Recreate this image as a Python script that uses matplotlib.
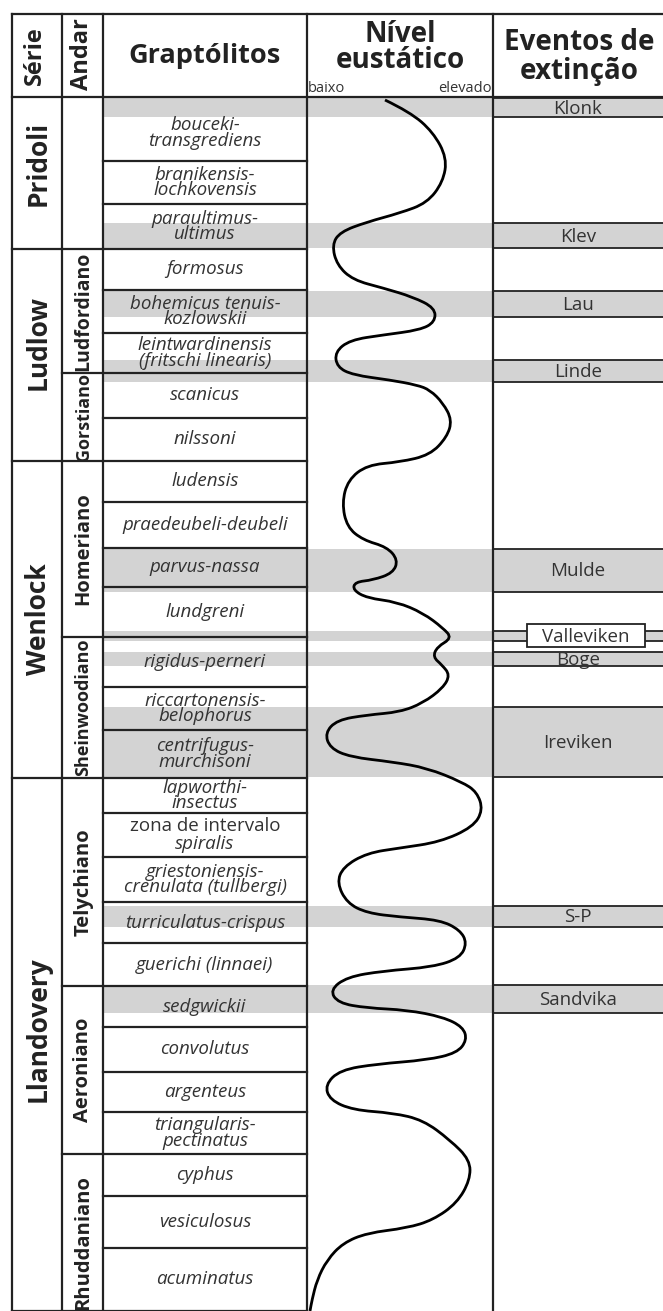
import matplotlib
matplotlib.use("Agg")
import matplotlib.pyplot as plt
import matplotlib.patches as mpatches
from matplotlib.path import Path

plt.rcParams['font.family'] = ['Open Sans', 'DejaVu Sans']

# graptolite zones (top -> bottom), boundaries in chart units (0 = top of table)
zone_names = [
    "bouceki-\ntransgrediens", "branikensis-\nlochkovensis", "paraultimus-\nultimus",
    "formosus", "bohemicus tenuis-\nkozlowskii", "leintwardinensis\n(fritschi linearis)",
    "scanicus", "nilssoni", "ludensis", "praedeubeli-deubeli", "parvus-nassa",
    "lundgreni", "rigidus-perneri", "riccartonensis-\nbelophorus", "centrifugus-\nmurchisoni",
    "lapworthi-\ninsectus", "zona de intervalo\nspiralis", "griestoniensis-\ncrenulata (tullbergi)",
    "turriculatus-crispus", "guerichi (linnaei)", "sedgwickii", "convolutus", "argenteus",
    "triangularis-\npectinatus", "cyphus", "vesiculosus", "acuminatus",
]
zone_bounds = [97, 161, 204, 249, 290, 333, 373, 418, 461, 502, 548, 587, 637, 687,
               730, 778, 813, 857, 902, 943, 986, 1027, 1072, 1112, 1154, 1196, 1248, 1311]

series_names = ["Pridoli", "Ludlow", "Wenlock", "Llandovery"]
series_bounds = [97, 249, 461, 778, 1311]

stage_names = ["", "Ludfordiano", "Gorstiano", "Homeriano", "Sheinwoodiano",
               "Telychiano", "Aeroniano", "Rhuddaniano"]
stage_bounds = [97, 249, 373, 461, 637, 778, 986, 1154, 1311]

# extinction events: name, top, bottom
event_names = ["Klonk", "Klev", "Lau", "Linde", "Mulde", "Valleviken", "Boge",
               "Ireviken", "S-P", "Sandvika"]
event_top = [98, 223, 291, 360, 549, 631, 652, 707, 906, 985]
event_bot = [117, 248, 317, 382, 592, 641, 666, 777, 927, 1013]

# eustatic curve (x: baixo -> elevado, y: depth in table)
curve_x = [385, 410, 433, 447, 443, 427, 400, 367, 340, 332, 337, 353, 383, 413, 435,
           435, 420, 383, 350, 335, 337, 353, 390, 417, 430, 443, 452, 447, 430, 400,
           367, 348, 342, 347, 363, 387, 398, 393, 373, 355, 353, 367, 397, 423, 443,
           452, 437, 433, 442, 450, 443, 423, 400, 367, 337, 325, 330, 350, 393, 427,
           462, 477, 483, 473, 440, 400, 367, 343, 337, 347, 367, 400, 440, 460, 467,
           460, 433, 383, 347, 330, 338, 367, 407, 443, 463, 467, 457, 427, 377, 340,
           325, 330, 353, 393, 423, 450, 470, 470, 457, 433, 407, 367, 343, 327, 317,
           312, 310]
curve_y = [100, 112, 132, 158, 182, 203, 213, 222, 232, 245, 265, 280, 288, 297, 308,
           322, 330, 335, 340, 352, 367, 375, 380, 385, 390, 403, 420, 437, 455, 462,
           465, 480, 503, 527, 540, 547, 560, 573, 580, 582, 590, 598, 602, 613, 628,
           638, 647, 657, 665, 675, 688, 703, 712, 715, 720, 733, 748, 757, 762, 768,
           782, 792, 810, 827, 842, 848, 853, 867, 883, 903, 913, 917, 920, 930, 943,
           958, 967, 971, 977, 990, 1003, 1008, 1010, 1017, 1027, 1040, 1053, 1060, 1064, 1070,
           1085, 1100, 1110, 1113, 1120, 1140, 1160, 1180, 1203, 1220, 1228, 1233, 1243, 1260, 1280,
           1300, 1311]

W, H = 663, 1311
fig = plt.figure(figsize=(W / 100, H / 100), dpi=100)
ax = fig.add_axes([0, 0, 1, 1])
ax.set_xlim(0, W)
ax.set_ylim(H, 0)
ax.axis('off')

# column edges
xL, xS, xA, xG, xN, xR = 12, 62, 103, 307, 493, 663
top, head = 14, 97
lc = '#222222'
gray = '#d3d3d3'
tc = '#333333'
zfs = 13.5   # zone font size
efs = 13.5   # event font size

# gray bands across graptolite + curve columns
for t, b in zip(event_top, event_bot):
    ax.add_patch(mpatches.Rectangle((xA, t), xN - xA, b - t, color=gray, lw=0, zorder=0))

# event boxes
for name, t, b in zip(event_names, event_top, event_bot):
    if name == "Valleviken":
        ax.add_patch(mpatches.Rectangle((xN, t), xR - xN, b - t, color=gray, lw=0, zorder=1))
        ax.plot([xN, 527], [t, t], color=lc, lw=1.3)
        ax.plot([xN, 527], [b, b], color=lc, lw=1.3)
        ax.plot([645, xR], [t, t], color=lc, lw=1.3)
        ax.plot([645, xR], [b, b], color=lc, lw=1.3)
        ax.add_patch(mpatches.Rectangle((527, t - 7), 118, b - t + 13, facecolor='white',
                                        edgecolor=lc, lw=1.3, zorder=2))
        ax.text(586, (t + b) / 2 + 0.5, name, ha='center', va='center', fontsize=efs,
                color=tc, zorder=3)
        continue
    ax.add_patch(mpatches.Rectangle((xN, t), xR - xN, b - t, color=gray, lw=0, zorder=1))
    ax.plot([xN, xR], [t, t], color=lc, lw=1.3)
    ax.plot([xN, xR], [b, b], color=lc, lw=1.3)
    ax.text(578, (t + b) / 2 + 1, name, ha='center', va='center', fontsize=efs, color=tc, zorder=3)

# table frame
ax.plot([xL, xR], [top, top], color=lc, lw=1.6)
ax.plot([xL, xR], [head, head], color=lc, lw=1.6)
for x in [xL, xS, xA, xG, xN]:
    ax.plot([x, x], [top, H], color=lc, lw=1.6)

# series (labels sit a bit above the middle in the source figure)
series_shift = {"Pridoli": -10, "Ludlow": -13, "Llandovery": -15}
for i, name in enumerate(series_names):
    t, b = series_bounds[i], series_bounds[i + 1]
    ax.plot([xL, xS], [b, b], color=lc, lw=1.6)
    ax.text((xL + xS) / 2 + 1, (t + b) / 2 + series_shift.get(name, 0), name, rotation=90,
            ha='center', va='center', fontsize=19, fontweight='bold', color=lc, clip_on=True)

# stages
stage_size = {"Gorstiano": 13, "Sheinwoodiano": 13, "Ludfordiano": 14}
for i, name in enumerate(stage_names):
    t, b = stage_bounds[i], stage_bounds[i + 1]
    ax.plot([xS, xA], [b, b], color=lc, lw=1.6)
    if name:
        yc = (t + b) / 2 + (10 if name == "Rhuddaniano" else 0)
        ax.text((xS + xA) / 2 + 1, yc, name, rotation=90, ha='center', va='center',
                fontsize=stage_size.get(name, 14.5), fontweight='bold', color=lc, clip_on=True)

# graptolite zones
for i, name in enumerate(zone_names):
    t, b = zone_bounds[i], zone_bounds[i + 1]
    ax.plot([xA, xG], [b, b], color=lc, lw=1.6)
    yc = (t + b) / 2 + (4 if i == 0 else 0)
    if name.startswith("zona de"):
        ax.text(205, yc - 9, "zona de intervalo", ha='center', va='center', fontsize=zfs, color=tc)
        ax.text(205, yc + 9, "spiralis", ha='center', va='center', fontsize=zfs, color=tc,
                style='italic')
    else:
        ax.text(205, yc, name, ha='center', va='center', fontsize=zfs, color=tc,
                style='italic', linespacing=0.82)

# eustatic curve
pts = list(zip(curve_x, curve_y))
verts = [pts[0]]
codes = [Path.MOVETO]
for i in range(1, len(pts) - 1):
    mid = ((pts[i][0] + pts[i + 1][0]) / 2, (pts[i][1] + pts[i + 1][1]) / 2)
    verts += [pts[i], mid]
    codes += [Path.CURVE3, Path.CURVE3]
verts.append(pts[-1])
codes.append(Path.LINETO)
ax.add_patch(mpatches.PathPatch(Path(verts, codes), facecolor='none', edgecolor='black',
                                lw=2.0, zorder=4))

# headers
ax.text(35, 56, "Série", rotation=90, ha='center', va='center', fontsize=17, fontweight='bold', color=lc)
ax.text(82, 54, "Andar", rotation=90, ha='center', va='center', fontsize=17, fontweight='bold', color=lc)
ax.text(205, 56, "Graptólitos", ha='center', va='center', fontsize=19.5, fontweight='bold', color=lc)
ax.text(400, 34, "Nível", ha='center', va='center', fontsize=20, fontweight='bold', color=lc)
ax.text(400, 61, "eustático", ha='center', va='center', fontsize=20, fontweight='bold', color=lc)
ax.text(308, 89, "baixo", ha='left', va='center', fontsize=10.5, color=tc)
ax.text(492, 89, "elevado", ha='right', va='center', fontsize=10.5, color=tc)
ax.text(579, 42, "Eventos de", ha='center', va='center', fontsize=20, fontweight='bold', color=lc)
ax.text(579, 71, "extinção", ha='center', va='center', fontsize=20, fontweight='bold', color=lc)

fig.savefig("out.png", dpi=100)
